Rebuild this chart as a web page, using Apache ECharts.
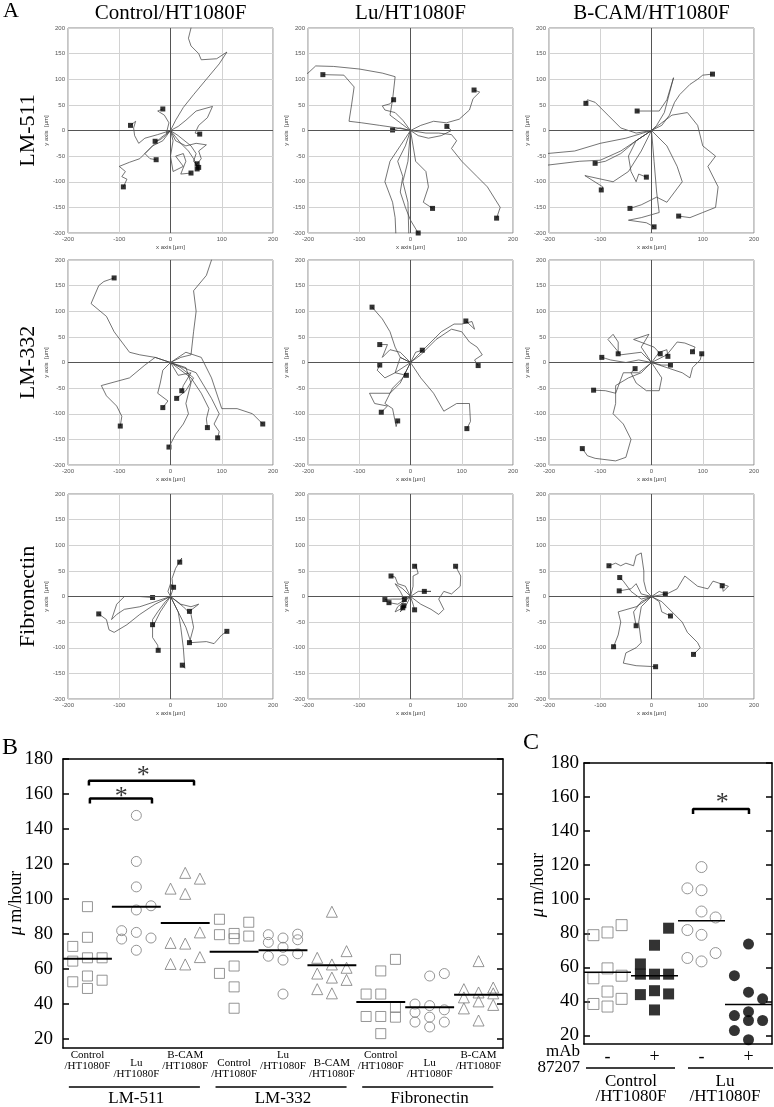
<!DOCTYPE html>
<html><head><meta charset="utf-8">
<script src="https://cdn.jsdelivr.net/npm/echarts@6/dist/echarts.min.js"></script>
<style>html,body{margin:0;padding:0;background:#fff}#c{width:774px;height:1107px}</style>
</head><body><div id="c"></div><script>
// ---------- Panel A: trajectories (µm), each track starts at origin, ends at the square ----------
const trkLM511Control = [
 [[0,0],[-20,-15],[-45,-40],[-60,-55],[-80,-62],[-100,-70],[-88,-80],[-95,-90],[-85,-95],[-92,-110]],
 [[0,0],[-25,-8],[-50,-15],[-62,-25],[-70,-10],[-72,5],[-68,18],[-78,10]],
 [[0,0],[-8,-5],[-3,15],[-12,30],[-25,38],[-15,42]],
 [[0,0],[-10,-10],[-20,-18],[-30,-21]],
 [[0,0],[-15,-20],[-35,-30],[-50,-45],[-40,-55],[-28,-57]],
 [[0,0],[5,-20],[0,-50],[5,-80],[25,-70],[10,-50],[25,-45],[30,-60],[20,-85],[40,-83]],
 [[0,0],[15,8],[30,20],[50,38],[82,47],[72,25],[55,10],[48,-5],[57,-7]],
 [[0,0],[10,-20],[30,-30],[50,-25],[70,-28],[55,-40],[60,-55],[52,-65]],
 [[0,0],[15,-10],[40,-30],[50,-45],[45,-60],[55,-72]],
 [[0,0],[20,-25],[35,-40],[45,-55],[50,-65],[52,-75]],
 [[0,0],[10,20],[25,45],[45,70],[70,100],[95,130],[110,153],[90,140],[60,138],[55,150],[40,165],[35,180],[40,200],[42,215]]
];
const trkLM511Lu = [
 [[0,0],[-20,15],[-40,30],[-35,60],[-30,105],[-55,112],[-100,120],[-150,125],[-185,126],[-200,112],[-215,105]],
 [[0,0],[-25,5],[-60,10],[-95,15],[-120,18],[-115,50],[-110,85],[-130,108],[-171,109]],
 [[0,0],[-15,20],[-30,35],[-50,40],[-55,48],[-40,52],[-33,60]],
 [[0,0],[20,10],[45,18],[70,15],[95,22],[115,40],[122,62],[135,75],[124,79]],
 [[0,0],[15,-10],[35,-15],[60,-10],[80,0],[71,8]],
 [[0,0],[30,-5],[55,-5],[80,-8],[90,-20],[80,-35],[100,-60],[130,-90],[150,-110],[175,-150],[168,-171]],
 [[0,0],[5,-30],[10,-60],[30,-80],[35,-110],[25,-140],[43,-152]],
 [[0,0],[-10,-30],[-25,-60],[-15,-90],[-20,-120],[-10,-150],[0,-175],[15,-200]],
 [[0,0],[-20,-30],[-40,-60],[-50,-100],[-35,-140],[-30,-170],[-28,-215]],
 [[0,0],[-5,-60],[-15,-100],[-5,-140],[-3,-215]],
 [[0,0],[-20,5],[-35,1]]
];
const trkLM511Bcam = [
 [[0,0],[20,10],[35,30],[45,55],[55,70],[75,90],[90,100],[100,108],[119,110]],
 [[0,0],[-30,-5],[-60,5],[-85,30],[-100,45],[-110,55],[-125,60],[-128,53]],
 [[0,0],[10,10],[25,35],[43,103],[30,60],[15,38],[-28,38]],
 [[0,0],[-50,-15],[-100,-25],[-150,-40],[-215,-46]],
 [[0,0],[-60,-40],[-100,-58],[-140,-60],[-215,-69]],
 [[0,0],[-30,-20],[-60,-45],[-90,-60],[-110,-64]],
 [[0,0],[-20,-40],[-45,-80],[-75,-100],[-130,-88],[-95,-110],[-98,-116]],
 [[0,0],[-30,-20],[-45,-50],[-40,-80],[-30,-100],[-25,-85],[-10,-91]],
 [[0,0],[30,-30],[50,-70],[60,-100],[30,-140],[10,-130],[-20,-145],[-42,-152]],
 [[0,0],[40,30],[70,35],[90,10],[100,-30],[125,-50],[110,-70],[130,-110],[125,-150],[100,-160],[75,-170],[53,-167]],
 [[0,0],[5,-60],[10,-120],[15,-160],[-20,-170],[-45,-175],[-10,-180],[5,-188]]
];
const trkLM332Control = [
 [[0,0],[-30,10],[-60,15],[-80,20],[-95,40],[-110,60],[-125,90],[-155,115],[-140,150],[-130,158],[-110,165]],
 [[0,0],[-30,10],[-50,-5],[-80,-30],[-135,-45],[-125,-65],[-105,-85],[-95,-105],[-98,-124]],
 [[0,0],[20,10],[40,15],[45,60],[50,100],[45,140],[70,170],[80,200],[82,215]],
 [[0,0],[-15,-15],[-20,-40],[-25,-60],[-5,-75],[-15,-88]],
 [[0,0],[20,-10],[45,-30],[30,-55],[12,-70]],
 [[0,0],[15,-25],[40,-20],[25,-45],[22,-55]],
 [[0,0],[30,-10],[40,-40],[30,-80],[35,-100],[25,-120],[10,-140],[-3,-165]],
 [[0,0],[40,-30],[60,-60],[75,-90],[70,-110],[72,-127]],
 [[0,0],[50,-20],[80,-70],[95,-100],[85,-120],[95,-135],[92,-147]],
 [[0,0],[30,20],[60,10],[80,-30],[100,-90],[130,-90],[160,-100],[180,-120]]
];
const trkLM332Lu = [
 [[0,0],[-20,10],[-30,30],[-40,60],[-55,85],[-75,108]],
 [[0,0],[-20,20],[-40,25],[-55,10],[-45,35],[-60,35]],
 [[0,0],[-30,-20],[-50,-30],[-65,-15],[-60,-5]],
 [[0,0],[-20,-40],[-40,-60],[-80,-60],[-70,-80],[-45,-85],[-57,-97]],
 [[0,0],[-15,-30],[-35,-50],[-50,-80],[-35,-90],[-28,-125],[-25,-114]],
 [[0,0],[-20,10],[-30,-20],[-8,-25]],
 [[0,0],[10,20],[23,24]],
 [[0,0],[30,30],[60,60],[85,75],[100,75],[120,80],[125,65],[108,81]],
 [[0,0],[20,15],[50,45],[80,65],[100,60],[115,40],[130,30],[140,15],[125,5],[132,-6]],
 [[0,0],[20,-30],[45,-60],[65,-95],[90,-80],[115,-80],[117,-115],[110,-129]]
];
const trkLM332Bcam = [
 [[0,0],[-20,-20],[-45,-30],[-70,-45],[-70,-80],[-75,-100],[-55,-120],[-40,-150],[-50,-185],[-70,-192],[-110,-187],[-125,-182],[-135,-168]],
 [[0,0],[-25,-20],[-55,-20],[-70,-60],[-90,-55],[-113,-54]],
 [[0,0],[-25,5],[-50,0],[-80,5],[-90,8],[-97,10]],
 [[0,0],[-20,20],[-60,15],[-85,45],[-75,55],[-65,40],[-65,17]],
 [[0,0],[20,-30],[15,-55],[-10,-55],[-30,-40],[-40,-20],[-32,-12]],
 [[0,0],[-20,30],[-5,55],[-35,45],[5,30],[17,17]],
 [[0,0],[15,20],[30,25],[32,12]],
 [[0,0],[20,-5],[37,-5]],
 [[0,0],[30,15],[50,40],[65,38],[85,30],[80,21]],
 [[0,0],[30,-10],[60,-20],[75,-30],[80,-10],[95,5],[98,17]]
];
const trkFNControl = [
 [[0,0],[5,15],[3,35],[10,55],[22,75],[18,67]],
 [[0,0],[-5,10],[0,25],[6,18]],
 [[0,0],[-30,-10],[-60,-20],[-90,-25],[-105,-35],[-115,-45],[-105,-15],[-90,0],[-60,0],[-35,-2]],
 [[0,0],[-30,-15],[-60,-35],[-85,-55],[-110,-70],[-120,-65],[-125,-45],[-140,-34]],
 [[0,0],[-10,-10],[-25,-30],[-35,-45],[-35,-55]],
 [[0,0],[-20,-30],[-35,-60],[-35,-80],[-25,-95],[-24,-105]],
 [[0,0],[20,-15],[40,-20],[55,-15],[37,-29]],
 [[0,0],[25,-20],[40,-35],[45,-60],[37,-90]],
 [[0,0],[20,-40],[30,-60],[40,-90],[70,-88],[85,-92],[100,-75],[110,-68]],
 [[0,0],[15,-30],[20,-60],[25,-100],[28,-140],[23,-134]]
];
const trkFNLu = [
 [[0,0],[20,-15],[40,-25],[55,-35],[65,-25],[55,-5],[65,10],[80,5],[97,20],[98,40],[88,59]],
 [[0,0],[5,20],[5,40],[15,45],[10,62],[8,59]],
 [[0,0],[15,10],[40,10],[27,10]],
 [[0,0],[-10,20],[-25,25],[-30,38],[-38,40]],
 [[0,0],[-20,-5],[-35,-5],[-50,-6]],
 [[0,0],[-25,-15],[-42,-12]],
 [[0,0],[-25,-20],[-30,-30],[-15,-22]],
 [[0,0],[5,-15],[8,-26]],
 [[0,0],[-15,15],[-30,25],[-20,10],[-12,-6]],
 [[0,0],[-10,-20],[-20,-30],[-13,-18]]
];
const trkFNBcam = [
 [[0,0],[-10,10],[-15,30],[-15,50],[-20,85],[-30,80],[-35,60],[-50,65],[-60,60],[-70,65],[-83,60]],
 [[0,0],[-20,-5],[-40,10],[-55,30],[-62,37]],
 [[0,0],[-20,5],[-30,25],[-40,15],[-63,11]],
 [[0,0],[-30,-20],[-65,-30],[-60,-50],[-65,-75],[-74,-98]],
 [[0,0],[-20,-10],[-35,-30],[-30,-57]],
 [[0,0],[-20,-20],[-25,-50],[-20,-90],[-30,-100],[-50,-110],[-55,-130],[-30,-135],[8,-137]],
 [[0,0],[15,10],[27,5]],
 [[0,0],[15,-10],[20,-30],[37,-38]],
 [[0,0],[20,-10],[40,-30],[60,-50],[70,-70],[90,-90],[95,-100],[82,-113]],
 [[0,0],[30,5],[50,15],[65,40],[90,20],[110,15],[120,30],[150,20],[140,10],[138,21]]
];
const aColTitles = ['Control/HT1080F','Lu/HT1080F','B-CAM/HT1080F'];
const aRowTitles = ['LM-511','LM-332','Fibronectin'];

// ---------- Panel B: speed (µm/hour), per category: [left col, centre col, right col] ----------
const bCategories = ['Control\n/HT1080F','Lu\n/HT1080F','B-CAM\n/HT1080F','Control\n/HT1080F','Lu\n/HT1080F','B-CAM\n/HT1080F','Control\n/HT1080F','Lu\n/HT1080F','B-CAM\n/HT1080F'];
const bLowered = [false,true,false,true,false,true,false,true,false];
const bGroups = ['LM-511','LM-332','Fibronectin'];
const lm511Control = [[73,64.6,52.8],[95.7,78.2,66.5,56.1,49],[66.5,53.7]];
const lm511Lu = [[82,77.2],[147.8,121.5,107,93.8,81,70.8],[96.2,77.8]];
const lm511Bcam = [[106,75,63],[115,103,74.6,62.7],[111.7,81,66.9]];
const lm332Control = [[88.5,79.7,57.6],[80.4,77.4,61.8,49.9,37.7],[86.8,78.9]];
const lm332Lu = [[79.7,75.3,67.4],[77.8,72.5,65.2,45.8],[80,76.8,68.8]];
const lm332Bcam = [[66.5,57.5,48.6],[92.8,62.7,55.2,46.2],[70.3,60.8,53.9]];
const fnControl = [[45.8,33],[59,45.8,33,23.2],[65.6,38.3,32.6]];
const fnLu = [[40.1,35.4,29.8],[56.1,39.2,32.6,27],[57.5,36.8,29.8]];
const fnBcam = [[48.6,43.9,37.6],[64.6,46.7,41.6,30.7],[49.5,46.2,39.6]];
const bMeans = [65.9,95.7,86.3,69.9,70.8,62.2,41.3,38.3,45.4];
const bTicks = [20,40,60,80,100,120,140,160,180];
const bBracket1 = [[0.55,154.6],[0.55,157.4],[1.82,157.4],[1.82,154.6]];
const bBracket2 = [[0.53,164.8],[0.53,167.6],[2.68,167.6],[2.68,164.8]];
const bStars = [[1.19,161.5],[1.64,173.8]];

// ---------- Panel C ----------
const cCategories = ['-','+','-','+'];
const cGroups = ['Control\n/HT1080F','Lu\n/HT1080F'];
const cCtrlMinus = [[78.9,53.6,38.5],[80.5,59.4,45.8,37],[84.8,55.1,41.5]];
const cCtrlPlus = [[62,56,44],[73,56,46.3,35],[83,56,44.4]];
const cLuMinus = [[106.4,81.9,65.5],[118.9,105.3,92.8,79.1,63.5],[89.3,68.4]];
const cLuPlus = [[55.1,31.7,22.9],[73.7,45.4,34,28.8,17.5],[41.5,28.8]];
const cMeans = [57.1,55.1,87.3,38.2];
const cBracket = [[2.32,150.1],[2.32,153],[3.51,153],[3.51,150.1]];
const cStars = [[2.94,160]];

// ---------- build ----------
const serif = 'Liberation Serif', sans = 'Liberation Sans';
const colOffsets = [0.2,0.5,0.8];
const blk = {color:'#000', width:1.5};
const grids=[], xAxis=[], yAxis=[], series=[], graphic=[];

const aPanels = [[trkLM511Control,trkLM511Lu,trkLM511Bcam],[trkLM332Control,trkLM332Lu,trkLM332Bcam],[trkFNControl,trkFNLu,trkFNBcam]];
const aColLeft=[68,308,549], aRowTop=[28,260,494], aSize=205;
aPanels.forEach((row,r)=>row.forEach((tracks,c)=>{
  const gi = grids.length;
  grids.push({left:aColLeft[c], top:aRowTop[r], width:aSize, height:aSize, show:true, borderColor:'#8a8a8a', borderWidth:1});
  const lab = {fontSize:6, color:'#555', margin:3, fontFamily:sans};
  xAxis.push({gridIndex:gi, type:'value', min:-200, max:200, interval:100, axisLine:{show:false}, axisTick:{show:false},
    splitLine:{show:true, lineStyle:{color:'#d2d2d2', width:1}}, axisLabel:lab,
    name:'x axis [µm]', nameLocation:'middle', nameGap:11, nameTextStyle:{fontSize:6, color:'#444', fontFamily:sans}});
  yAxis.push({gridIndex:gi, type:'value', min:-200, max:200, interval:50, axisLine:{show:false}, axisTick:{show:false},
    splitLine:{show:true, lineStyle:{color:'#d2d2d2', width:1}}, axisLabel:lab,
    name:'y axis  [µm]', nameLocation:'middle', nameGap:17, nameTextStyle:{fontSize:6, color:'#444', fontFamily:sans}});
  series.push({type:'line', xAxisIndex:gi, yAxisIndex:gi, data:[[0,0]], symbol:'none', lineStyle:{width:0}, silent:true,
    markLine:{symbol:['none','none'], silent:true, label:{show:false}, lineStyle:{color:'#555', width:1, type:'solid'}, data:[{xAxis:0},{yAxis:0}]}});
  tracks.forEach(t=>series.push({type:'line', xAxisIndex:gi, yAxisIndex:gi, data:t, symbol:'none', lineStyle:{color:'#3a3a3a', width:0.7}, z:3, silent:true}));
  series.push({type:'scatter', xAxisIndex:gi, yAxisIndex:gi, data:tracks.map(t=>t[t.length-1]), symbol:'rect', symbolSize:5, itemStyle:{color:'#000'}, z:4, silent:true});
}));
aColTitles.forEach((t,c)=>graphic.push({type:'text', x:aColLeft[c]+aSize/2, y:13, style:{text:t, font:'21px '+serif, fill:'#000', textAlign:'center', textVerticalAlign:'middle'}}));
aRowTitles.forEach((t,r)=>graphic.push({type:'text', x:28, y:aRowTop[r]+aSize/2, rotation:Math.PI/2, style:{text:t, font:'22px '+serif, fill:'#000', textAlign:'center', textVerticalAlign:'middle'}}));
graphic.push({type:'text', x:3, y:11, style:{text:'A', font:'22px '+serif, fill:'#000', textAlign:'left', textVerticalAlign:'middle'}});

// helper: scatter points from column lists
function pts(cols, cat){ const out=[]; cols.forEach((vals,j)=>vals.forEach(v=>out.push([cat+colOffsets[j], v]))); return out; }
function starLabel(){ return {show:true, formatter:'*', position:'inside', fontSize:26, fontFamily:serif, color:'#000', offset:[0,6]}; }

// Panel B
const bG = grids.length, bLeft=63, bTop=759, bW=440, bH=292;
grids.push({left:bLeft, top:bTop, width:bW, height:bH});
const bxv = xAxis.length;
xAxis.push({gridIndex:bG, type:'value', min:0, max:9, show:false});
xAxis.push({gridIndex:bG, type:'category', position:'bottom', data:bCategories.map((s,i)=>bLowered[i]?'':s),
  axisLine:{lineStyle:blk}, axisTick:{inside:true, length:6, lineStyle:blk},
  axisLabel:{interval:0, fontSize:11, lineHeight:11, fontFamily:serif, color:'#000', margin:2}});
xAxis.push({gridIndex:bG, type:'category', position:'bottom', data:bCategories.map((s,i)=>bLowered[i]?s:''),
  axisLine:{show:false}, axisTick:{show:false}, axisLabel:{interval:0, fontSize:11, lineHeight:11, fontFamily:serif, color:'#000', margin:10}});
xAxis.push({gridIndex:bG, type:'category', position:'bottom', offset:38, data:bGroups,
  axisLine:{show:false}, axisTick:{show:false}, axisLabel:{interval:0, fontSize:17, fontFamily:serif, color:'#000', margin:4}});
xAxis.push({gridIndex:bG, type:'category', position:'top', data:bCategories,
  axisLine:{lineStyle:blk}, axisTick:{inside:true, length:6, lineStyle:blk}, axisLabel:{show:false}});
const byv = yAxis.length;
yAxis.push({gridIndex:bG, type:'value', min:15, max:180, position:'left', axisLine:{show:true, lineStyle:blk},
  axisTick:{show:true, inside:true, length:6, lineStyle:blk, customValues:bTicks},
  axisLabel:{customValues:bTicks, fontSize:19, fontFamily:serif, color:'#000', margin:10}, splitLine:{show:false}});
yAxis.push({gridIndex:bG, type:'value', min:15, max:180, position:'right', axisLine:{show:true, lineStyle:blk},
  axisTick:{show:true, inside:true, length:6, lineStyle:blk, customValues:bTicks}, axisLabel:{show:false}, splitLine:{show:false}});
const bSets = [lm511Control,lm511Lu,lm511Bcam,lm332Control,lm332Lu,lm332Bcam,fnControl,fnLu,fnBcam];
const bSym = ['rect','circle','triangle'];
bSets.forEach((cols,i)=>{
  series.push({type:'scatter', xAxisIndex:bxv, yAxisIndex:byv, data:pts(cols,i), symbol:bSym[i%3], symbolSize:i%3===2?11:10,
    itemStyle:{color:'rgba(255,255,255,0)', borderColor:'#7a7a7a', borderWidth:1}, silent:true});
  series.push({type:'line', xAxisIndex:bxv, yAxisIndex:byv, data:[[i,bMeans[i]],[i+1,bMeans[i]]], symbol:'none', lineStyle:{color:'#000', width:2}, z:5, silent:true});
});
[bBracket1,bBracket2].forEach(b=>series.push({type:'line', xAxisIndex:bxv, yAxisIndex:byv, data:b, symbol:'none', lineStyle:{color:'#000', width:2.5}, silent:true}));
series.push({type:'scatter', xAxisIndex:bxv, yAxisIndex:byv, data:bStars, symbolSize:1, itemStyle:{color:'rgba(0,0,0,0)'}, label:starLabel(), silent:true});
// group underlines B
const bCw = bW/9;
[0,1,2].forEach(g=>graphic.push({type:'line', shape:{x1:bLeft+(3*g+0.12)*bCw, y1:1087, x2:bLeft+(3*g+2.8)*bCw, y2:1087}, style:{stroke:'#000', lineWidth:1.5}}));
graphic.push({type:'text', x:2, y:748, style:{text:'B', font:'24px '+serif, fill:'#000', textAlign:'left', textVerticalAlign:'middle'}});
const muRich = {i:{fontFamily:serif, fontStyle:'italic', fontSize:18, fill:'#000', color:'#000'}, n:{fontFamily:serif, fontSize:18, fill:'#000', color:'#000'}};
graphic.push({type:'text', x:16, y:903, rotation:Math.PI/2, style:{text:'{i|μ}{n|\u2009m/hour}', rich:muRich, fill:'#000', textAlign:'center', textVerticalAlign:'middle'}});

// Panel C
const cG = grids.length, cLeft=584, cTop=763, cW=188, cH=281;
grids.push({left:cLeft, top:cTop, width:cW, height:cH});
const cxv = xAxis.length;
xAxis.push({gridIndex:cG, type:'value', min:0, max:4, show:false});
xAxis.push({gridIndex:cG, type:'category', position:'bottom', data:cCategories,
  axisLine:{lineStyle:blk}, axisTick:{inside:true, length:6, lineStyle:blk},
  axisLabel:{interval:0, fontSize:18, fontFamily:serif, color:'#000', margin:4}});
xAxis.push({gridIndex:cG, type:'category', position:'bottom', offset:26, data:cGroups,
  axisLine:{show:false}, axisTick:{show:false}, axisLabel:{interval:0, fontSize:17, lineHeight:15, fontFamily:serif, color:'#000', margin:4}});
xAxis.push({gridIndex:cG, type:'category', position:'top', data:cCategories,
  axisLine:{lineStyle:blk}, axisTick:{inside:true, length:6, lineStyle:blk}, axisLabel:{show:false}});
const cyv = yAxis.length;
yAxis.push({gridIndex:cG, type:'value', min:15, max:180, position:'left', axisLine:{show:true, lineStyle:blk},
  axisTick:{show:true, inside:true, length:6, lineStyle:blk, customValues:bTicks},
  axisLabel:{customValues:bTicks, fontSize:19, fontFamily:serif, color:'#000', margin:5}, splitLine:{show:false}});
yAxis.push({gridIndex:cG, type:'value', min:15, max:180, position:'right', axisLine:{show:true, lineStyle:blk},
  axisTick:{show:true, inside:true, length:6, lineStyle:blk, customValues:bTicks}, axisLabel:{show:false}, splitLine:{show:false}});
const cSets = [cCtrlMinus,cCtrlPlus,cLuMinus,cLuPlus];
const cSym = ['rect','rect','circle','circle'];
const cFilled = [false,true,false,true];
cSets.forEach((cols,i)=>{
  series.push({type:'scatter', xAxisIndex:cxv, yAxisIndex:cyv, data:pts(cols,i), symbol:cSym[i], symbolSize:11,
    itemStyle: cFilled[i] ? {color:'#000'} : {color:'rgba(255,255,255,0)', borderColor:'#7a7a7a', borderWidth:1}, silent:true});
  series.push({type:'line', xAxisIndex:cxv, yAxisIndex:cyv, data:[[i,cMeans[i]],[i+1,cMeans[i]]], symbol:'none', lineStyle:{color:'#000', width:1.5}, z:5, silent:true});
});
series.push({type:'line', xAxisIndex:cxv, yAxisIndex:cyv, data:cBracket, symbol:'none', lineStyle:{color:'#000', width:2.5}, silent:true});
series.push({type:'scatter', xAxisIndex:cxv, yAxisIndex:cyv, data:cStars, symbolSize:1, itemStyle:{color:'rgba(0,0,0,0)'}, label:starLabel(), silent:true});
[[586,675],[688,773]].forEach(s=>graphic.push({type:'line', shape:{x1:s[0], y1:1068, x2:s[1], y2:1068}, style:{stroke:'#000', lineWidth:1.5}}));
graphic.push({type:'text', x:523, y:743, style:{text:'C', font:'24px '+serif, fill:'#000', textAlign:'left', textVerticalAlign:'middle'}});
graphic.push({type:'text', x:538, y:885, rotation:Math.PI/2, style:{text:'{i|μ}{n|\u2009m/hour}', rich:muRich, fill:'#000', textAlign:'center', textVerticalAlign:'middle'}});
graphic.push({type:'text', x:580, y:1052, style:{text:'mAb', font:'17px '+serif, fill:'#000', textAlign:'right', textVerticalAlign:'middle'}});
graphic.push({type:'text', x:580, y:1068, style:{text:'87207', font:'17px '+serif, fill:'#000', textAlign:'right', textVerticalAlign:'middle'}});

const chart = echarts.init(document.getElementById('c'));
chart.setOption({animation:false, backgroundColor:'#fff', grid:grids, xAxis:xAxis, yAxis:yAxis, series:series, graphic:graphic});
</script></body></html>
